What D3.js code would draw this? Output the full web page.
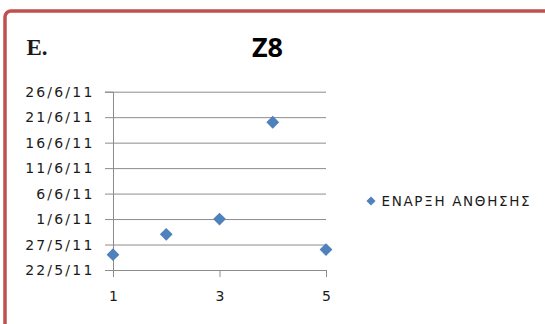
<!DOCTYPE html>
<html>
<head>
<meta charset="utf-8">
<script src="https://cdn.jsdelivr.net/npm/d3@7"></script>
<style>
  html, body { margin: 0; padding: 0; background: #fff; }
  svg { display: block; }
</style>
</head>
<body>
<svg id="chart" width="545" height="324"></svg>
<script>
// Flowering start dates per plant (Z8)
const plants = [1, 2, 3, 4, 5];
const floweringStart = ["2011-05-25", "2011-05-29", "2011-06-01", "2011-06-20", "2011-05-26"];
const xTicks = [1, 3, 5];
const yTickDates = ["2011-05-22", "2011-05-27", "2011-06-01", "2011-06-06", "2011-06-11", "2011-06-16", "2011-06-21", "2011-06-26"];
const seriesName = "ΕΝΑΡΞΗ ΑΝΘΗΣΗΣ";
const chartTitle = "Z8";
const sideLabel = "E.";

const parse = d3.timeParse("%Y-%m-%d");
const fmt = d3.timeFormat("%-d/%-m/%y");
const data = plants.map((p, i) => ({ x: p, date: parse(floweringStart[i]) }));
const yTicks = yTickDates.map(parse);

const svg = d3.select("#chart");

// outer frame
svg.append("rect")
  .attr("x", 5).attr("y", 11).attr("width", 620).attr("height", 420)
  .attr("rx", 6)
  .attr("fill", "#fff").attr("stroke", "#c0504d").attr("stroke-width", 3.5);

const x = d3.scaleLinear().domain([1, 5]).range([113, 326]);
const y = d3.scaleTime().domain([yTicks[0], yTicks[yTicks.length - 1]]).range([270, 91.7]);

const gridColor = "#8c8c8c";
const labelFont = "DejaVu Sans, Verdana, sans-serif";

// horizontal gridlines + left axis
const yAxis = d3.axisLeft(y).tickValues(yTicks).tickFormat(fmt).tickSize(8).tickPadding(10.5);
const gy = svg.append("g").attr("transform", `translate(${x(1)},0)`).call(yAxis);
gy.select(".domain").attr("stroke", gridColor);
gy.selectAll(".tick line").attr("stroke", gridColor);
gy.selectAll(".tick").append("line")
  .attr("x1", 0).attr("x2", x(5) - x(1))
  .attr("stroke", gridColor);
gy.selectAll(".tick text")
  .attr("font-family", labelFont).attr("font-size", 14)
  .attr("letter-spacing", "2.2px")
  .attr("fill", "#1a1a1a");

// bottom axis
const xAxis = d3.axisBottom(x).tickValues(xTicks).tickFormat(d3.format("d")).tickSize(7).tickPadding(14);
const gx = svg.append("g").attr("transform", `translate(0,${y.range()[0]})`).call(xAxis);
gx.select(".domain").attr("stroke", gridColor);
gx.selectAll(".tick line").attr("stroke", gridColor);
gx.selectAll(".tick text")
  .attr("font-family", labelFont).attr("font-size", 14)
  .attr("fill", "#1a1a1a");

// markers
const diamond = d3.symbol().type(d3.symbolSquare).size(82);
svg.append("g").selectAll("path")
  .data(data)
  .join("path")
  .attr("d", diamond)
  .attr("transform", d => `translate(${x(d.x)},${y(d.date)}) rotate(45)`)
  .attr("fill", "#4f81bd");

// title
svg.append("text")
  .attr("x", 267.5).attr("y", 57)
  .attr("text-anchor", "middle")
  .attr("font-family", "Open Sans, DejaVu Sans, sans-serif")
  .attr("font-weight", "bold").attr("font-size", 27)
  .attr("fill", "#000")
  .text(chartTitle);

svg.append("text")
  .attr("x", 26.5).attr("y", 55)
  .attr("font-family", "Liberation Serif, DejaVu Serif, serif")
  .attr("font-weight", "bold")
  .attr("font-size", 23)
  .attr("fill", "#1a1a1a")
  .text(sideLabel);

// legend
const lg = svg.append("g").attr("transform", "translate(371,201)");
lg.append("path")
  .attr("d", d3.symbol().type(d3.symbolSquare).size(42))
  .attr("transform", "rotate(45)")
  .attr("fill", "#4f81bd");
lg.append("text")
  .attr("x", 10.5).attr("y", 5)
  .attr("font-family", labelFont).attr("font-size", 13.5)
  .attr("textLength", 148).attr("lengthAdjust", "spacing")
  .attr("fill", "#1a1a1a")
  .text(seriesName);
</script>
</body>
</html>
